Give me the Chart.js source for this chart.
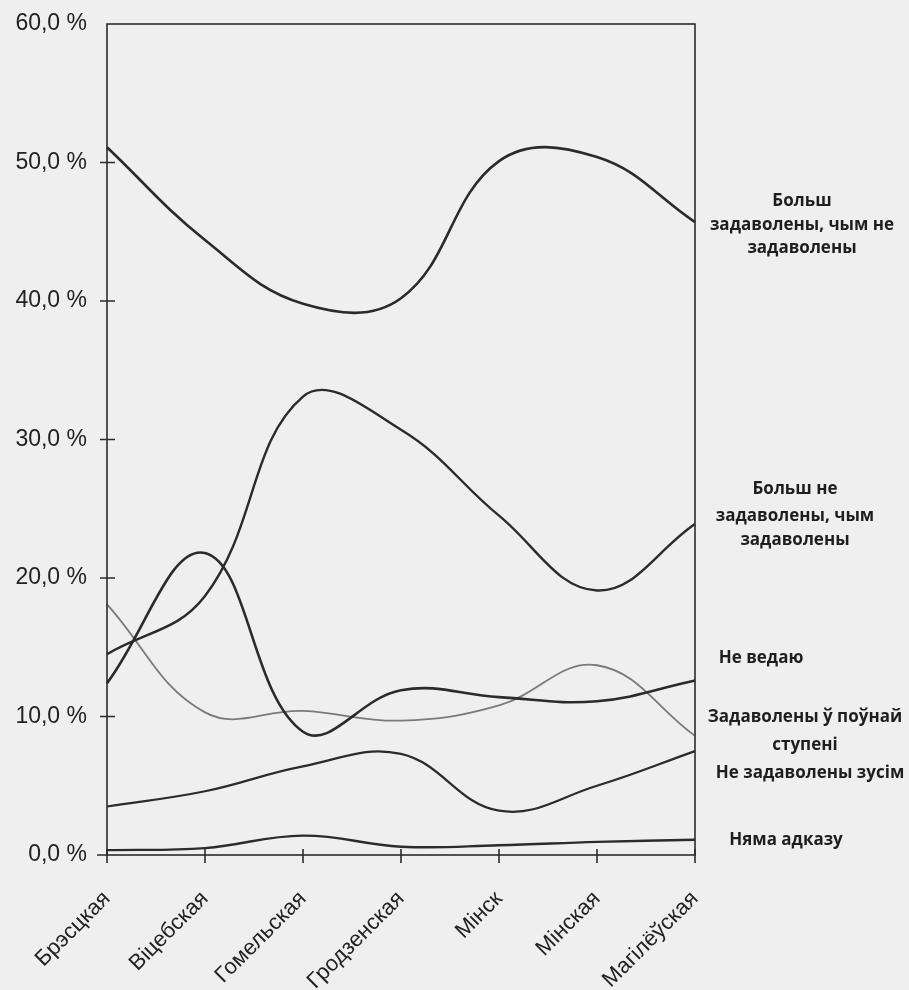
<!DOCTYPE html>
<html>
<head>
<meta charset="utf-8">
<script src="https://cdn.jsdelivr.net/npm/chart.js@4/dist/chart.umd.min.js"></script>
<style>
  html, body { margin: 0; padding: 0; background: #efefef; }
  #wrap { width: 909px; height: 990px; }
</style>
</head>
<body>
<div id="wrap"><canvas id="chart" width="909" height="990"></canvas></div>
<script>
// regions along the x axis
const regions = ["Брэсцкая", "Віцебская", "Гомельская", "Гродзенская", "Мінск", "Мінская", "Магілёўская"];

// shares of answers, %
const moreSatisfied = [51.1, 44.4, 39.8, 40.2, 50.1, 50.4, 45.7];
const moreUnsatisfied = [14.5, 18.7, 33.1, 30.7, 24.5, 19.1, 23.9];
const dontKnow = [12.4, 21.8, 8.9, 11.9, 11.4, 11.1, 12.6];
const fullySatisfied = [18.1, 10.3, 10.4, 9.7, 10.8, 13.7, 8.6];
const notSatisfiedAtAll = [3.5, 4.6, 6.4, 7.3, 3.2, 5.0, 7.5];
const noAnswer = [0.35, 0.5, 1.4, 0.6, 0.7, 0.95, 1.1];

const yTicks = [0, 10, 20, 30, 40, 50, 60];

// series names, written to the right of the plot
const sideLabels = [
  { lines: ["Больш", "задаволены, чым не", "задаволены"], x: 802, y: [201, 225, 248] },
  { lines: ["Больш не", "задаволены, чым", "задаволены"], x: 795, y: [489, 516, 540] },
  { lines: ["Не ведаю"], x: 761, y: [658] },
  { lines: ["Задаволены ў поўнай", "ступені"], x: 805, y: [717, 745] },
  { lines: ["Не задаволены зусім"], x: 810, y: [773] },
  { lines: ["Няма адказу"], x: 786, y: [840] },
];

const ink = "#2b2b2b";

const paperBg = {
  id: "paperBg",
  beforeDraw(chart) {
    const c = chart.ctx;
    c.save();
    c.fillStyle = "#efefef";
    c.fillRect(0, 0, chart.width, chart.height);
    c.restore();
  },
};

const frameAndTicks = {
  id: "frameAndTicks",
  afterDatasetsDraw(chart) {
    const c = chart.ctx;
    const a = chart.chartArea;
    const xs = chart.scales.x, ys = chart.scales.y;
    c.save();
    c.strokeStyle = ink;
    c.lineWidth = 1.6;
    c.strokeRect(a.left, a.top, a.right - a.left, a.bottom - a.top);
    c.beginPath();
    yTicks.forEach((v) => {
      if (v === 0 || v === 60) return;
      const y = ys.getPixelForValue(v);
      c.moveTo(a.left - 7, y);
      c.lineTo(a.left + 8, y);
    });
    c.moveTo(a.left - 10, a.bottom);
    c.lineTo(a.left, a.bottom);
    regions.forEach((r, i) => {
      const x = xs.getPixelForValue(i);
      c.moveTo(x, a.bottom - 6);
      c.lineTo(x, a.bottom + 8);
    });
    c.stroke();

    c.fillStyle = "#1e1e1e";
    c.font = "bold 17px 'Open Sans'";
    c.textAlign = "center";
    c.textBaseline = "middle";
    sideLabels.forEach((s) => {
      s.lines.forEach((t, k) => c.fillText(t, s.x, s.y[k]));
    });
    c.restore();
  },
};

function series(label, data, width, color) {
  return {
    label: label,
    data: data,
    borderColor: color,
    borderWidth: width,
    pointRadius: 0,
    tension: 0.4,
    fill: false,
  };
}

const ctx = document.getElementById("chart").getContext("2d");
const chart = new Chart(ctx, {
  type: "line",
  data: {
    labels: regions,
    datasets: [
      series("Больш задаволены, чым не задаволены", moreSatisfied, 2.6, ink),
      series("Больш не задаволены, чым задаволены", moreUnsatisfied, 2.4, ink),
      series("Не ведаю", dontKnow, 2.6, ink),
      series("Задаволены ў поўнай ступені", fullySatisfied, 1.8, "#7a7a7a"),
      series("Не задаволены зусім", notSatisfiedAtAll, 2.2, ink),
      series("Няма адказу", noAnswer, 2.4, ink),
    ],
  },
  options: {
    responsive: false,
    animation: false,
    layout: { padding: { top: 24, right: 214, left: 0, bottom: 0 } },
    plugins: {
      legend: { display: false },
      tooltip: { enabled: false },
    },
    scales: {
      x: {
        offset: false,
        grid: { display: false, drawTicks: false },
        border: { display: false },
        ticks: {
          autoSkip: false,
          maxRotation: 45,
          minRotation: 45,
          padding: 31,
          color: "#222",
          font: { family: "'Liberation Sans', Arial", size: 22 },
        },
        afterFit(scale) { scale.height = 135; },
      },
      y: {
        min: 0,
        max: 60,
        grid: { display: false, drawTicks: false },
        border: { display: false },
        ticks: {
          stepSize: 10,
          padding: 20,
          color: "#222",
          font: { family: "'Liberation Sans', Arial", size: 23 },
          callback: (v) => v.toFixed(1).replace(".", ",") + " %",
        },
        afterFit(scale) {
          scale.width = 107;
          scale.paddingTop = 0;
          scale.paddingBottom = 0;
        },
      },
    },
  },
  plugins: [paperBg, frameAndTicks],
});
</script>
</body>
</html>
